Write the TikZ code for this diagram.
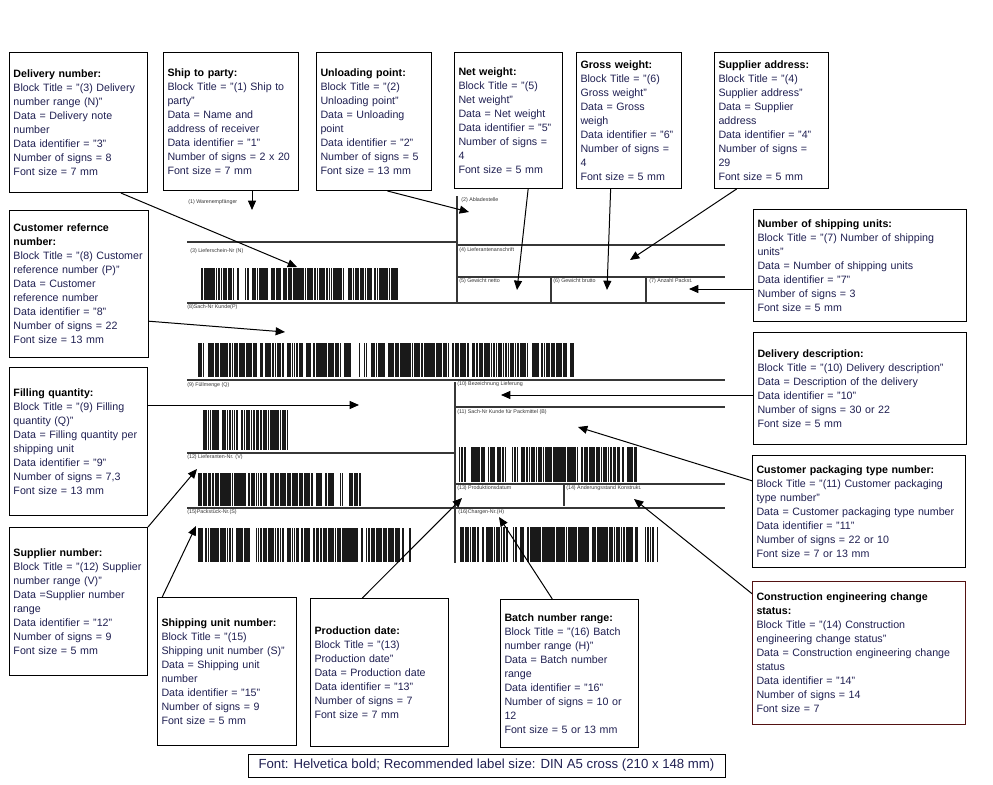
\documentclass[tikz,border=0pt]{standalone}
\usepackage{fontspec}
\setmainfont{Liberation Sans}
\usetikzlibrary{arrows.meta}

\definecolor{boxtext}{RGB}{32,32,82}
\definecolor{scangray}{RGB}{55,55,55}
\definecolor{boxred}{RGB}{84,18,18}

\newcommand{\boxtitle}[1]{\textcolor{black}{\bfseries #1}}

% random bars between x=#1 and x=#2, from y=#3 to y=#4
\newcommand{\drawbarcode}[4]{%
  \pgfmathsetmacro{\bcnext}{#1+2.4}%
  \foreach \bx in {#1,\bcnext,...,#2}{%
    \pgfmathtruncatemacro{\bcon}{rnd<0.85}%
    \pgfmathsetmacro{\bcw}{1.3+1.2*rnd}%
    \ifnum\bcon=1 \fill[black!90] (\bx,#3) rectangle (\bx+\bcw,#4);\fi
  }%
}

\begin{document}
\begin{tikzpicture}[x=0.75pt,y=-0.75pt,>={Triangle[length=7pt,width=6pt]},
    infobox/.style={draw,line width=0.75pt,anchor=north west,align=left,
      inner xsep=3pt,inner ysep=0pt,text=boxtext,
      font=\fontsize{8}{10.5}\selectfont},
    scantext/.style={anchor=west,inner sep=0pt,text=scangray,
      font=\fontsize{4}{4.5}\selectfont},
    scanline/.style={draw=scangray,line width=0.8pt},
    pointer/.style={->,line width=0.75pt}]

    \path[fill=white,use as bounding box] (0,0) rectangle (993,785);

    % Label form
    \draw[scanline] (457,196) -- (457,304);
    \draw[scanline] (187,242) -- (457,242);
    \draw[scanline] (457,245) -- (725,245);
    \draw[scanline] (457,277) -- (725,277);
    \draw[scanline] (551,277) -- (551,302) (646,277) -- (646,302);
    \draw[scanline] (187,303) -- (725,303);
    \draw[scanline] (187,380) -- (725,380);
    \draw[scanline] (455,382) -- (455,563);
    \draw[scanline] (455,407) -- (725,407);
    \draw[scanline] (187,453) -- (455,453);
    \draw[scanline] (455,484) -- (725,484);
    \draw[scanline] (564,484) -- (564,506);
    \draw[scanline] (187,508) -- (725,508);

    \node[scantext] (s1) at (188,202) {(1) Warenempfänger};
    \node[scantext] (s2) at (461,200) {(2) Abladestelle};
    \node[scantext] (s3) at (190,251) {(3) Lieferschein-Nr (N)};
    \node[scantext] (s4) at (459,250) {(4) Lieferantenanschrift};
    \node[scantext] (s5) at (459,281) {(5) Gewicht netto};
    \node[scantext] (s6) at (553,281) {(6) Gewicht brutto};
    \node[scantext] (s7) at (649,281) {(7) Anzahl Packst.};
    \node[scantext] (s8) at (187,307) {(8)Sach-Nr Kunde(P)};
    \node[scantext] (s9) at (187,385) {(9) Füllmenge (Q)};
    \node[scantext] (s10) at (457,384) {(10) Bezeichnung Lieferung};
    \node[scantext] (s11) at (457,412) {(11) Sach-Nr Kunde für Packmittel (B)};
    \node[scantext] (s12) at (187,457) {(12) Lieferanten-Nr. (V)};
    \node[scantext] (s13) at (457,488) {(13) Produktionsdatum};
    \node[scantext] (s14) at (566,488) {(14) Änderungsstand Konstrukt.};
    \node[scantext] (s15) at (187,512) {(15)Packstück-Nr.(S)};
    \node[scantext] (s16) at (458,512) {(16)Chargen-Nr.(H)};

    % Barcodes
    \pgfmathsetseed{7}
    \drawbarcode{199}{396}{268}{300}
    \drawbarcode{198}{573}{343}{377}
    \drawbarcode{198}{287}{410}{450}
    \drawbarcode{459}{636}{447}{482}
    \drawbarcode{198}{359}{473}{506}
    \drawbarcode{198}{411}{528}{562}
    \drawbarcode{460}{657}{527}{562}

    % Arrow targets on the label
    \coordinate (t1) at (252,210);
    \coordinate (t2) at (469,212);
    \coordinate (t3) at (297,267);
    \coordinate (t4) at (630,260);
    \coordinate (t5) at (517,290);
    \coordinate (t6) at (607,290);
    \coordinate (t7) at (689,289);
    \coordinate (t8) at (285,332);
    \coordinate (t9) at (359,405);
    \coordinate (t10) at (501,395);
    \coordinate (t11) at (578,427);
    \coordinate (t12) at (197,469);
    \coordinate (t13) at (462,498);
    \coordinate (t14) at (634,499);
    \coordinate (t15) at (196,526);
    \coordinate (t16) at (499,517);

    % Top row
    \node[infobox,text width=97.5pt,minimum height=105pt] (dnum) at (9,52)
        {\boxtitle{Delivery number:}\\Block Title = "(3) Delivery\\number range (N)"\\Data = Delivery note\\number\\Data identifier = "3"\\Number of signs = 8\\Font size = 7 mm};
    \node[infobox,text width=95.25pt,minimum height=103.5pt] (ship) at (163,52)
        {\boxtitle{Ship to party:}\\Block Title = "(1) Ship to\\party"\\Data = Name and\\address of receiver\\Data identifier = "1"\\Number of signs = 2 x 20\\Font size = 7 mm};
    \node[infobox,text width=80.25pt,minimum height=103.5pt] (unload) at (316,52)
        {\boxtitle{Unloading point:}\\Block Title = "(2)\\Unloading point"\\Data = Unloading\\point\\Data identifier = "2"\\Number of signs = 5\\Font size = 13 mm};
    \node[infobox,text width=75pt,minimum height=102pt] (net) at (454,52)
        {\boxtitle{Net weight:}\\Block Title = "(5)\\Net weight"\\Data = Net weight\\Data identifier = "5"\\Number of signs =\\4\\Font size = 5 mm};
    \node[infobox,text width=72.75pt,minimum height=102pt] (gross) at (576,52)
        {\boxtitle{Gross weight:}\\Block Title = "(6)\\Gross weight"\\Data = Gross\\weigh\\Data identifier = "6"\\Number of signs =\\4\\Font size = 5 mm};
    \node[infobox,text width=79.5pt,minimum height=102pt] (supaddr) at (714,52)
        {\boxtitle{Supplier address:}\\Block Title = "(4)\\Supplier address"\\Data = Supplier\\address\\Data identifier = "4"\\Number of signs =\\29\\Font size = 5 mm};

    % Left column
    \node[infobox,text width=98.25pt,minimum height=110.25pt] (custref) at (9,210)
        {\boxtitle{Customer refernce}\\\boxtitle{number:}\\Block Title = "(8) Customer\\reference number (P)"\\Data = Customer\\reference number\\Data identifier = "8"\\Number of signs = 22\\Font size = 13 mm};
    \node[infobox,text width=97.5pt,minimum height=111pt] (filling) at (9,367)
        {\boxtitle{Filling quantity:}\\Block Title = "(9) Filling\\quantity (Q)"\\Data = Filling quantity per\\shipping unit\\Data identifier = "9"\\Number of signs = 7,3\\Font size = 13 mm};
    \node[infobox,text width=97.5pt,minimum height=111pt] (supnum) at (9,527)
        {\boxtitle{Supplier number:}\\Block Title = "(12) Supplier\\number range (V)"\\Data =Supplier number\\range\\Data identifier = "12"\\Number of signs = 9\\Font size = 5 mm};

    % Bottom row
    \node[infobox,text width=98.25pt,minimum height=111pt] (shipunit) at (157,597)
        {\boxtitle{Shipping unit number:}\\Block Title = "(15)\\Shipping unit number (S)"\\Data = Shipping unit\\number\\Data identifier = "15"\\Number of signs = 9\\Font size = 5 mm};
    \node[infobox,text width=97.5pt,minimum height=111pt] (proddate) at (310,598)
        {\boxtitle{Production date:}\\Block Title = "(13)\\Production date"\\Data = Production date\\Data identifier = "13"\\Number of signs = 7\\Font size = 7 mm};
    \node[infobox,text width=97.5pt,minimum height=111pt] (batch) at (500,599)
        {\boxtitle{Batch number range:}\\Block Title = "(16) Batch\\number range (H)"\\Data = Batch number\\range\\Data identifier = "16"\\Number of signs = 10 or\\12\\Font size = 5 or 13 mm};

    % Right column
    \node[infobox,text width=153.75pt,minimum height=84pt] (units) at (753,209)
        {\boxtitle{Number of shipping units:}\\Block Title = "(7) Number of shipping\\units"\\Data = Number of shipping units\\Data identifier = "7"\\Number of signs = 3\\Font size = 5 mm};
    \node[infobox,text width=153.75pt,minimum height=84pt] (deldesc) at (753,332)
        {\boxtitle{Delivery description:}\\Block Title = "(10) Delivery description"\\Data = Description of the delivery\\Data identifier = "10"\\Number of signs = 30 or 22\\Font size = 5 mm};
    \node[infobox,text width=153.75pt,minimum height=84pt] (packtype) at (752,455)
        {\boxtitle{Customer packaging type number:}\\Block Title = "(11) Customer packaging\\type number"\\Data = Customer packaging type number\\Data identifier = "11"\\Number of signs = 22 or 10\\Font size = 7 or 13 mm};
    \node[infobox,draw=boxred,text width=153.75pt,minimum height=107.25pt] (constr) at (752,581)
        {\boxtitle{Construction engineering change}\\\boxtitle{status:}\\Block Title = "(14) Construction\\engineering change status"\\Data = Construction engineering change\\status\\Data identifier = "14"\\Number of signs = 14\\Font size = 7};

    % Footer
    \node[draw,line width=0.75pt,text=boxtext,font=\fontsize{9.9}{12}\selectfont,
        minimum width=357.75pt,minimum height=17.25pt] (footer) at (486.5,765.5)
        {Font: Helvetica bold; Recommended label size: DIN A5 cross (210 x 148 mm)};

    % Pointers
    \draw[pointer] (dnum.-59) -- (t3);
    \draw[pointer] (ship.south -| t1) -- (t1);
    \draw[pointer] (unload.-79) -- (t2);
    \draw[pointer] (net.-74) -- (t5);
    \draw[pointer] (gross.-105) -- (t6);
    \draw[pointer] (supaddr.-117) -- (t4);
    \draw[pointer] (custref.-28) -- (t8);
    \draw[pointer] (units.west |- t7) -- (t7);
    \draw[pointer] (deldesc.west |- t10) -- (t10);
    \draw[pointer] (filling.east |- t9) -- (t9);
    \draw[pointer] (supnum.north east) -- (t12);
    \draw[pointer] (shipunit.131) -- (t15);
    \draw[pointer] (proddate.103) -- (t13);
    \draw[pointer] (batch.103) -- (t16);
    \draw[pointer] (packtype.164) -- (t11);
    \draw[pointer] (constr.151) -- (t14);
\end{tikzpicture}
\end{document}
